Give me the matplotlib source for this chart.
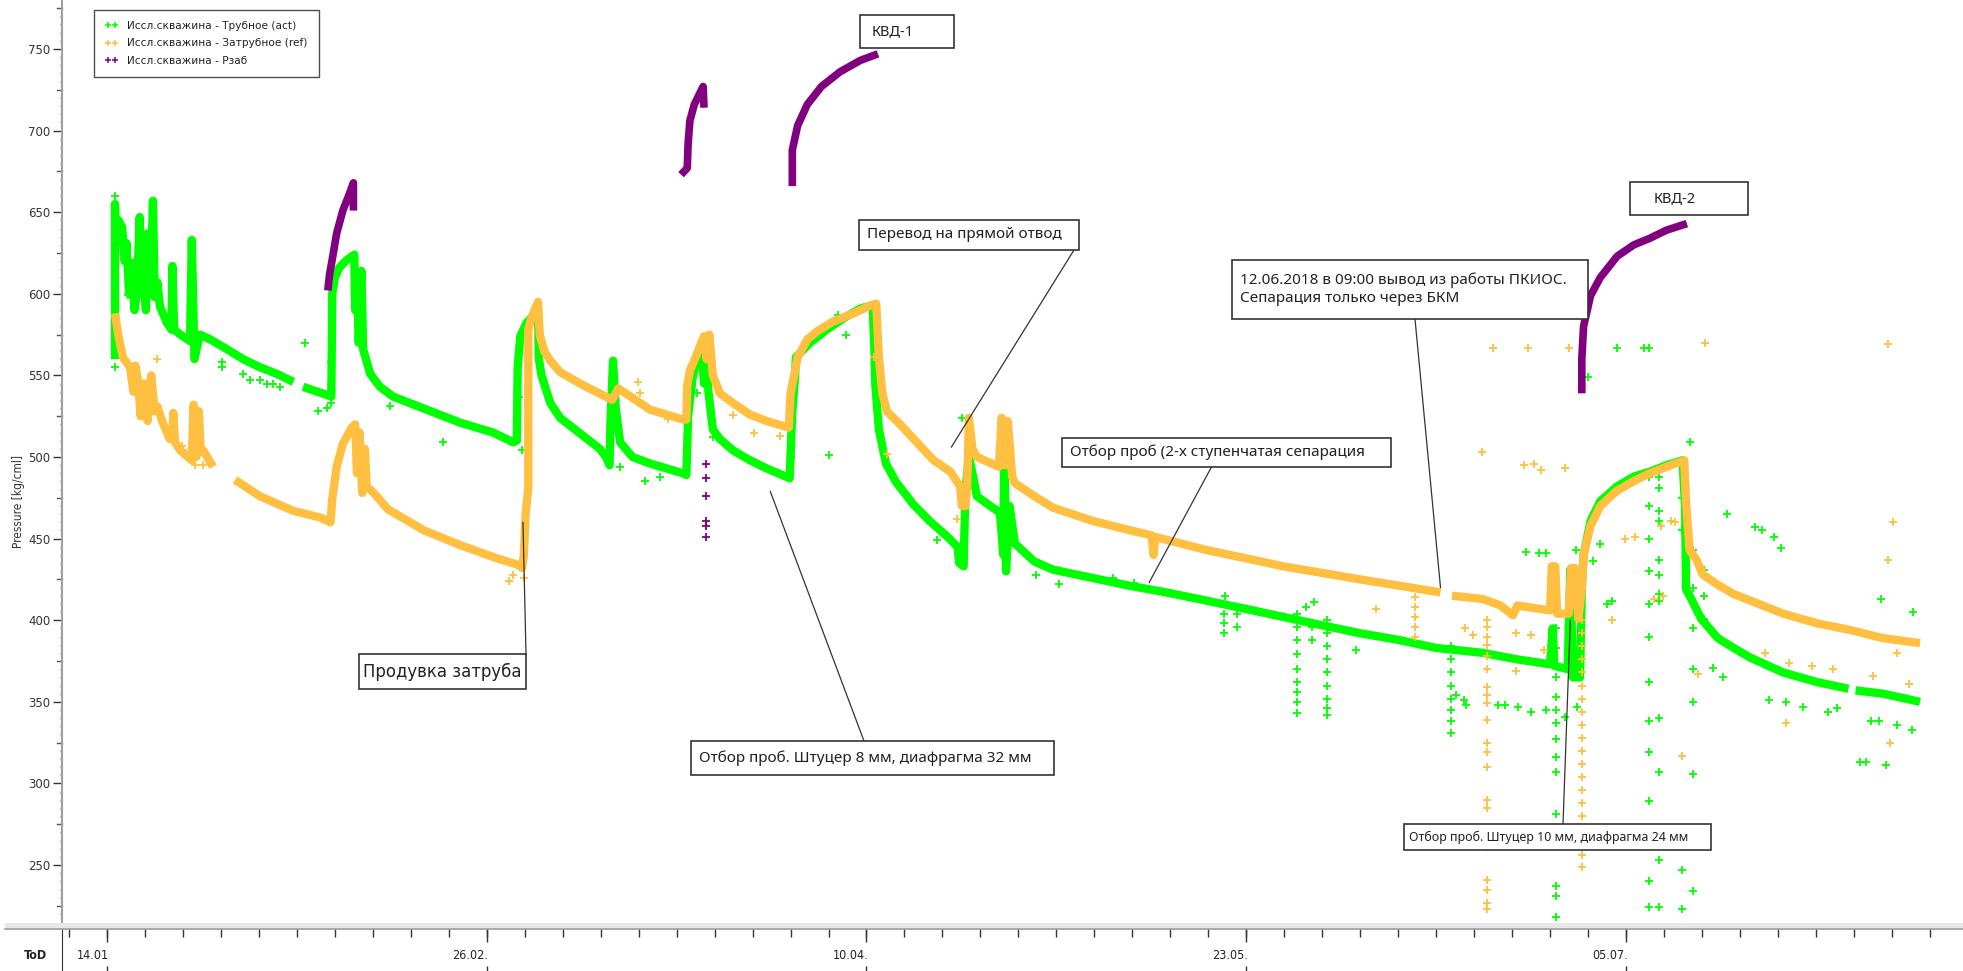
import matplotlib as mpl
mpl.use('Agg')
import numpy as np
import matplotlib.pyplot as plt
import matplotlib.dates as mdates
from matplotlib.lines import Line2D
from matplotlib.patches import Rectangle

nan = np.nan

# time axis: days since 14.01.2018
start_date = np.datetime64('2018-01-14')
tick_dates = ['2018-01-14', '2018-02-26', '2018-04-10', '2018-05-23', '2018-07-05']
tick_labels = ['14.01', '26.02.', '10.04.', '23.05.', '05.07.']

# Исcл.скважина - Трубное (act), main band
act_days = [0.9, 0.9, 1.0, 1.3, 1.7, 2.0, 2.2, 2.5, 2.8, 3.1, 3.4, 3.7, 3.9, 4.1, 4.4, 4.6, 4.9, 5.2, 5.4, 5.7,
            6.0, 6.8, 7.3, 7.4, 7.6, 8.3, 9.4, 9.6, 9.9, 10.5, 11.7, 13.6, 15.4, 17.3, 19.2, 21.1, 21.6,
            22.2, 24.9, 25.4, 25.5, 25.8, 26.3, 27.0, 28.0, 28.1, 28.3, 28.5, 28.8, 29.0, 29.8, 30.9, 32.4,
            34.3, 36.2, 40.0, 43.7, 46.0, 46.4, 46.5, 46.8, 47.5, 48.8, 48.9, 49.2, 50.2, 51.3, 53.9, 55.8,
            56.5, 56.9, 57.0, 57.3, 57.6, 58.1, 59.5, 61.5, 65.2, 65.6, 65.8, 66.3, 66.8, 67.3, 67.6, 67.8,
            68.1, 68.6, 69.4, 70.9, 72.8, 74.7, 77.3, 77.6, 77.9, 78.0, 79.6, 81.5, 83.4, 85.3, 86.7, 86.9,
            87.0, 87.4, 88.2, 89.3, 91.3, 93.1, 95.0, 96.3, 96.5, 97.0, 97.2, 97.6, 98.0, 98.5, 100.0, 101.1,
            101.5, 101.6, 101.8, 102.2, 102.8, 105.0, 107.1, 111.5, 115.9, 120.0, 124.5, 128.9, 133.2, 137.5,
            141.9, 146.2, 150.5, 155.8, 159.7, 163.4, 163.7, 163.9, 165.4, 165.7, 166.0, 166.8, 167.0, 167.2,
            168.0, 169.1, 171.0, 172.9, 174.7, 176.6, 178.4, 178.7, 178.8, 179.4, 180.5, 182.4, 184.2, 186.1,
            189.8, 193.7, 197.2, 197.6, 198.0, 201.1, 205.3]
act_vals = [560, 655, 630, 645, 641, 620, 631, 600, 619, 590, 602, 647, 600, 616, 590, 637, 600, 657, 598, 607,
            592, 582, 578, 617, 578, 575, 571, 633, 560, 575, 572, 566, 560, 555, 551, 546, nan,
            543, 538, 537, 600, 610, 616, 620, 624, 590, 612, 570, 614, 566, 551, 543, 537,
            533, 529, 521, 515, 509, 510, 555, 574, 582, 590, 560, 550, 533, 524, 513, 505,
            500, 495, 520, 559, 530, 509, 500, 496, 490, 489, 525, 548, 562, 570, 545, 565,
            540, 517, 511, 504, 498, 493, 487, 528, 548, 561, 570, 578, 585, 591, 593, 565,
            544, 517, 496, 485, 471, 461, 452, 445, 435, 433, 480, 500, 490, 476, 470, 466,
            440, 517, 430, 470, 447, 436, 431, 426, 421, 417, 412, 407, 402, 397,
            392, 388, 383, 380, 376, 373, 395, 372, 370, 431, 365, 365, 419, 440,
            461, 473, 482, 488, 491, 495, 498, 470, 419, 413, 401, 389, 383, 377,
            368, 362, 358, nan, 357, 355, 350]

# scattered act points
act_pt_days = [0.9, 0.9, 0.9, 0.9, 0.9, 0.9, 0.9, 2.4, 13.0, 13.0, 15.4, 16.2, 17.3, 18.1, 18.8, 19.6, 22.4,
               23.9, 24.9, 25.4, 25.4, 25.4, 32.0, 38.1, 46.4, 46.4, 46.6, 47.0, 58.1, 60.9, 62.6, 65.7,
               65.7, 66.8, 68.6, 77.5, 77.5, 81.7, 82.8, 83.7, 94.0, 96.8, 105.2, 107.8, 113.9, 116.3,
               126.5, 126.5, 126.5, 126.6, 128.0, 128.0, 134.8, 134.8, 134.8, 134.8, 134.8, 134.8, 134.8,
               134.8, 134.8, 135.8, 136.5, 136.5, 136.7, 138.2, 138.2, 138.2, 138.2, 138.2, 138.2, 138.2,
               138.2, 138.2, 141.4, 152.2, 152.2, 152.2, 152.2, 152.2, 152.2, 152.2, 152.2, 152.8, 153.7,
               153.9, 157.5, 158.3, 159.8, 160.7, 161.3, 162.1, 162.9, 163.0,
               164.1, 164.1, 164.1, 164.1, 164.1, 164.1, 164.1, 164.1, 164.1, 164.1, 164.1, 164.1, 164.1,
               165.1, 166.3, 166.5, 167.7, 168.3, 169.1, 169.9, 170.4, 171.0, 174.0,
               174.6, 174.6, 174.6, 174.6, 174.6, 174.6, 174.6, 174.6, 174.6, 174.6, 174.6, 174.6, 174.6,
               175.7, 175.7, 175.7, 175.7, 175.7, 175.7, 175.7, 175.7, 175.7, 175.7, 175.7, 175.7,
               178.4, 178.4, 178.4, 178.4, 178.4, 179.3, 179.6, 179.6, 179.6, 179.6, 179.6, 179.6, 179.6,
               180.8, 180.8, 180.8, 181.8, 183.0, 183.4, 186.6, 187.4, 188.2, 188.8, 189.6, 190.1, 192.1,
               194.9, 195.9, 198.5, 199.2, 199.8, 200.6, 200.9, 201.4, 202.7, 204.4, 204.5]
act_pt_vals = [555, 565, 575, 610, 640, 650, 660, 599, 558, 555, 551, 547, 547, 545, 545, 543, 570,
               528, 530, 558, 545, 533, 531, 509, 540, 520, 537, 504, 494, 485, 488, 505,
               522, 539, 512, 513, 500, 501, 587, 575, 449, 524, 428, 422, 426, 423,
               404, 398, 392, 415, 404, 396, 404, 396, 388, 379, 370, 362, 356, 350,
               343, 408, 396, 388, 411, 400, 392, 384, 376, 368, 360, 352, 346,
               342, 382, 384, 376, 368, 360, 352, 345, 338, 331, 354, 351,
               348, 348, 348, 347, 442, 344, 441, 441, 345,
               395, 383, 365, 353, 345, 337, 327, 316, 307, 281, 237, 231, 218,
               341, 443, 347, 549, 436, 447, 410, 412, 567, 567,
               567, 488, 470, 450, 430, 410, 390, 362, 338, 319, 289, 240, 224,
               488, 481, 467, 461, 437, 428, 416, 412, 340, 307, 253, 224,
               497, 475, 455, 247, 223, 509, 443, 420, 395, 370, 350, 306, 234,
               431, 415, 401, 371, 365, 465, 457, 455, 351, 451, 444, 350, 347,
               344, 346, 313, 313, 338, 338, 413, 311, 336, 333, 405]

# Исcл.скважина - Затрубное (ref), main band
ref_days = [0.9, 1.3, 1.8, 2.6, 3.0, 3.2, 3.5, 3.8, 4.2, 4.6, 5.0, 5.4, 5.7, 6.3, 7.1, 7.4, 7.5, 7.7, 8.3, 9.6,
            9.8, 10.1, 10.4, 10.6, 10.9, 12.0, 13.0, 14.5, 17.3, 21.1, 24.1, 25.3, 25.5, 26.0, 26.7, 27.7,
            28.1, 28.3, 28.6, 28.9, 29.2, 29.4, 30.2, 31.8, 35.9, 40.0, 44.1, 46.5, 47.0, 47.2, 47.4, 47.7,
            47.7, 48.1, 48.8, 49.0, 49.5, 50.2, 51.3, 53.9, 57.2, 57.9, 61.5, 65.2, 65.6, 65.7, 66.0, 66.8,
            67.6, 67.9, 68.2, 68.6, 69.4, 70.9, 72.8, 74.7, 77.2, 77.4, 78.2, 79.3, 80.4, 82.2, 84.1, 86.1,
            87.1, 87.4, 87.8, 88.3, 89.8, 91.7, 93.6, 95.5, 96.6, 96.8, 97.2, 97.4, 97.6, 98.0, 98.5, 101.0,
            101.3, 101.7, 102.0, 102.5, 102.8, 105.0, 107.1, 111.5, 115.9, 118.3, 118.5, 118.7, 124.5, 128.9,
            133.2, 137.6, 141.9, 146.5, 151.0, 151.6, 152.3, 155.8, 157.8, 159.2, 159.7, 163.4, 163.6, 164.0,
            164.2, 165.5, 165.8, 166.2, 166.6, 167.0, 167.2, 168.0, 169.1, 170.9, 172.8, 174.7, 176.6, 178.6,
            178.8, 179.2, 180.0, 180.7, 182.3, 184.2, 186.1, 189.8, 193.7, 197.4, 201.1, 205.3]
ref_vals = [588, 574, 561, 555, 540, 556, 547, 525, 545, 522, 550, 528, 531, 521, 511, 512, 527, 509, 504, 498,
            532, 500, 528, 503, 504, 494, nan, 486, 476, 467, 463, 460, 474, 494, 508, 518,
            520, 490, 515, 478, 505, 482, 478, 468, 455, 446, 438, 434, 432, 440, 465, 481,
            578, 586, 595, 575, 565, 559, 552, 544, 535, 542, 529, 523, 523, 544, 553, 563,
            574, 560, 575, 550, 539, 533, 526, 522, 518, 539, 561, 572, 577, 583, 587, 592,
            594, 561, 539, 528, 520, 509, 498, 491, 482, 470, 470, 482, 524, 505, 500, 494,
            524, 495, 522, 488, 484, 476, 469, 461, 455, 452, 440, 451, 443, 438,
            433, 429, 425, 421, 417, nan, 415, 413, 409, 403, 409, 406, 433, 433,
            404, 404, 432, 432, 401, 419, 440, 458, 470, 479, 485, 490, 494, 498,
            473, 443, 437, 428, 422, 416, 412, 404, 398, 394, 389, 386]

# scattered ref points
ref_pt_days = [5.7, 8.5, 8.6, 10.0, 10.9, 45.5, 46.0, 47.2,
               47.7, 47.7, 47.7, 47.7, 47.7, 47.7, 47.7, 47.7, 47.7, 47.7,
               60.1, 60.4, 63.5, 69.7, 70.9, 73.3, 76.2, 86.9, 88.3, 96.3, 143.7,
               148.1, 148.1, 148.1, 148.1, 148.1, 153.8, 154.7, 155.7, 156.9,
               156.3, 156.3, 156.3, 156.3, 156.3, 156.3, 156.3, 156.3, 156.3, 156.3, 156.3, 156.3, 156.3,
               156.3, 156.3, 156.3, 156.3, 156.3, 156.3, 156.3,
               159.5, 159.5, 160.5, 160.9, 161.2, 161.6, 162.4, 162.7, 165.1, 165.5,
               167.0, 167.0, 167.0, 167.0, 167.0, 167.0, 167.0, 167.0, 167.0, 167.0, 167.0, 167.0, 167.0,
               167.0, 167.0, 167.0, 167.0, 167.0, 167.0, 167.0,
               170.4, 171.9, 173.0, 175.2, 176.0, 176.2, 177.1, 177.6, 178.4, 180.2, 180.9, 187.8, 190.1,
               190.5, 193.1, 195.5, 200.0, 201.7, 201.7, 201.9, 202.2, 202.7, 204.1]
ref_pt_vals = [560, 507, 504, 495, 495, 424, 428, 426,
               485, 495, 505, 515, 525, 535, 545, 555, 565, 575,
               546, 539, 523, 537, 526, 515, 513, 561, 502, 462, 407,
               414, 408, 402, 396, 390, 395, 391, 503, 567,
               400, 396, 390, 385, 378, 370, 359, 354, 349, 339, 325, 319, 310,
               290, 285, 261, 241, 235, 227, 223,
               392, 369, 495, 567, 391, 496, 492, 382, 493, 567,
               400, 392, 384, 376, 368, 360, 352, 344, 336, 328, 320, 312, 304,
               296, 288, 280, 272, 264, 256, 249,
               400, 450, 451, 413, 458, 415, 461, 460, 317, 367, 570, 380, 337,
               374, 372, 370, 366, 437, 569, 325, 460, 380, 361]

# Исcл.скважина - Рзаб (build-up curves)
pz_days = [25.0, 25.2, 25.5, 26.0, 26.7, 27.5, 27.9, 27.9, 28.0,
           65.0, 65.7, 65.8, 66.0, 66.5, 67.5, 67.6, 67.7,
           77.6, 77.6, 78.2, 79.3, 80.9, 83.0, 85.3, 87.3, 87.5,
           167.0, 167.0, 167.2, 168.0, 169.1, 171.0, 172.9, 174.7, 176.6, 178.9]
pz_vals = [602, 612, 621, 637, 651, 662, 668, 651, nan,
           673, 677, 692, 706, 716, 727, 714, nan,
           666, 688, 703, 716, 727, 736, 743, 747, nan,
           539, 560, 580, 599, 610, 623, 630, 634, 639, 643]
pz_pt_days = [67.8, 67.8, 67.8, 67.8, 67.8, 67.8]
pz_pt_vals = [496, 487, 476, 461, 458, 451]

legend_names = ['Иссл.скважина - Трубное (act)', 'Иссл.скважина - Затрубное (ref)', 'Иссл.скважина - Рзаб']
colors = ['#00ff00', '#ffbf40', '#800080']

W, H = 1963, 971
t0 = mdates.date2num(start_date)
narrow = dict(family=['DejaVu Sans'], fontstretch='condensed')


def xd(days):
    return t0 + np.asarray(days, dtype=float)


def fig_px(x, y_top):
    # pixel position measured from the top-left corner
    return x / W, 1 - y_top / H


fig = plt.figure(figsize=(W / 100, H / 100), dpi=100)
ax = fig.add_axes([62 / W, 1 - 922 / H, (1958 - 62) / W, 922 / H])
axt = fig.add_axes([62 / W, 0, (1958 - 62) / W, 42 / H], sharex=ax)

band_lw = 6.0
ax.plot(xd(act_days), act_vals, color=colors[0], lw=band_lw, solid_capstyle='butt', zorder=2)
ax.plot(xd(act_pt_days), act_pt_vals, ls='none', marker='+', ms=6, mew=1.3, color=colors[0], zorder=2)
ax.plot(xd(ref_days), ref_vals, color=colors[1], lw=band_lw, solid_capstyle='butt', zorder=3)
ax.plot(xd(ref_pt_days), ref_pt_vals, ls='none', marker='+', ms=6, mew=1.3, color=colors[1], zorder=3)
ax.plot(xd(pz_days), pz_vals, color=colors[2], lw=5.5, solid_capstyle='butt', zorder=4)
ax.plot(xd(pz_pt_days), pz_pt_vals, ls='none', marker='+', ms=6, mew=1.3, color=colors[2], zorder=4)

ax.set_xlim(t0 - 5.1, t0 + 209.6)
ax.set_ylim(215.1, 780.0)

# y axis
for s in ['top', 'right', 'bottom']:
    ax.spines[s].set_visible(False)
ax.spines['left'].set_color('#a0a0a0')
ax.spines['left'].set_linewidth(1.5)
ax.set_yticks(np.arange(250, 751, 50))
ax.set_yticks(np.arange(220, 780, 5), minor=True)
ax.tick_params(axis='y', which='major', length=6.5, width=1, color='#333333', labelsize=8.5,
               labelcolor='#333333', pad=2)
ax.tick_params(axis='y', which='minor', length=1.5, width=1, color='#666666')
for v in np.arange(225, 776, 50):
    ax.plot([-0.0028, 0], [v, v], transform=ax.get_yaxis_transform(), color='#555555', lw=1,
            clip_on=False)
ax.tick_params(axis='x', which='both', bottom=False, labelbottom=False)
fig.text(*fig_px(19, 501), 'Pressure [kg/cml]', rotation=90, ha='center', va='center', fontsize=8.5,
         color='#333333', **narrow)

# time strip below the plot
for s in ['top', 'right', 'bottom']:
    axt.spines[s].set_visible(False)
axt.spines['left'].set_color('#333333')
axt.set_ylim(0, 1)
axt.set_yticks([])
axt.tick_params(axis='x', which='both', bottom=False, labelbottom=False)
major_x = mdates.date2num(np.array(tick_dates, dtype='datetime64[D]'))
minor_x = np.arange(major_x[0] - 4.3, t0 + 209.6, 4.3)
axt.vlines(minor_x, 0.81, 1, color='#333333', lw=1)
axt.vlines(major_x, 0.69, 1, color='#333333', lw=1)
axt.vlines(major_x, 0, 0.12, color='#333333', lw=1)
for xm, lab in zip(major_x, tick_labels):
    axt.text(xm + 0.2, 0.38, lab, ha='right', va='center', fontsize=9, color='#222222', **narrow)
fig.text(*fig_px(36, 955), 'ToD', ha='center', va='center', fontsize=9, fontweight='bold',
         color='#222222', **narrow)
fig.add_artist(Rectangle(fig_px(5, 928), (W - 5) / W, 5 / H, transform=fig.transFigure,
                         facecolor='#e8e8e8', edgecolor='none'))
fig.add_artist(Line2D([5 / W, 1], [1 - 928.5 / H] * 2, transform=fig.transFigure, color='#9a9a9a', lw=1.2))

# legend
handles = [Line2D([], [], ls='none', marker='+', ms=5, mew=1.1, color=c) for c in colors]
leg = ax.legend(handles, legend_names, loc='upper left', bbox_to_anchor=fig_px(94, 10),
                bbox_transform=fig.transFigure, numpoints=2, fontsize=7.6, frameon=True, fancybox=False,
                edgecolor='#222222', borderpad=1.05, labelspacing=0.7, handlelength=1.2,
                handletextpad=0.9, borderaxespad=0)
leg.get_frame().set_linewidth(1.0)
for t in leg.get_texts():
    t.set_color('#222222')


# annotation boxes (pixel boxes measured on the reference)
def note(x0, y0, x1, y1, text, size, pad_x=8, **font):
    font = font or dict(family=['Noto Sans', 'DejaVu Sans'])
    fig.add_artist(Rectangle(fig_px(x0, y1), (x1 - x0) / W, (y1 - y0) / H, transform=fig.transFigure,
                             facecolor='white', edgecolor='#333333', lw=1.2, zorder=10))
    fig.text(*fig_px(x0 + pad_x, (y0 + y1) / 2), text, ha='left', va='center', fontsize=size,
             color='#222222', zorder=11, linespacing=1.3, **font)


def leader(px, py, day, val):
    ax.annotate('', xy=(xd(day), val), xycoords='data', xytext=(px, H - py), textcoords='figure pixels',
                arrowprops=dict(arrowstyle='-', color='#333333', lw=0.9, shrinkA=0, shrinkB=0),
                annotation_clip=False)


leader(1074, 250, 95.6, 506)
leader(1212, 466, 118.0, 423)
leader(1415, 319, 151.0, 420)
leader(526, 654, 47.1, 460)
leader(864, 741, 75.1, 479)
leader(1563, 824, 165.7, 400)

note(860, 15, 954, 48, 'КВД-1', 10.5, pad_x=12)
note(1630, 182, 1748, 215, 'КВД-2', 10.5, pad_x=24)
note(859, 220, 1079, 250, 'Перевод на прямой отвод', 11)
note(1062, 438, 1391, 467, 'Отбор проб (2-х ступенчатая сепарация', 11)
note(1232, 260, 1588, 319, '12.06.2018 в 09:00 вывод из работы ПКИОС.\nСепарация только через БКМ', 11)
note(359, 654, 526, 689, 'Продувка затруба', 13.2, pad_x=4, **narrow)
note(691, 741, 1054, 775, 'Отбор проб. Штуцер 8 мм, диафрагма 32 мм', 11)
note(1404, 824, 1711, 850, 'Отбор проб. Штуцер 10 мм, диафрагма 24 мм', 9, pad_x=5)

plt.savefig('out.png', dpi=100)
plt.close()
